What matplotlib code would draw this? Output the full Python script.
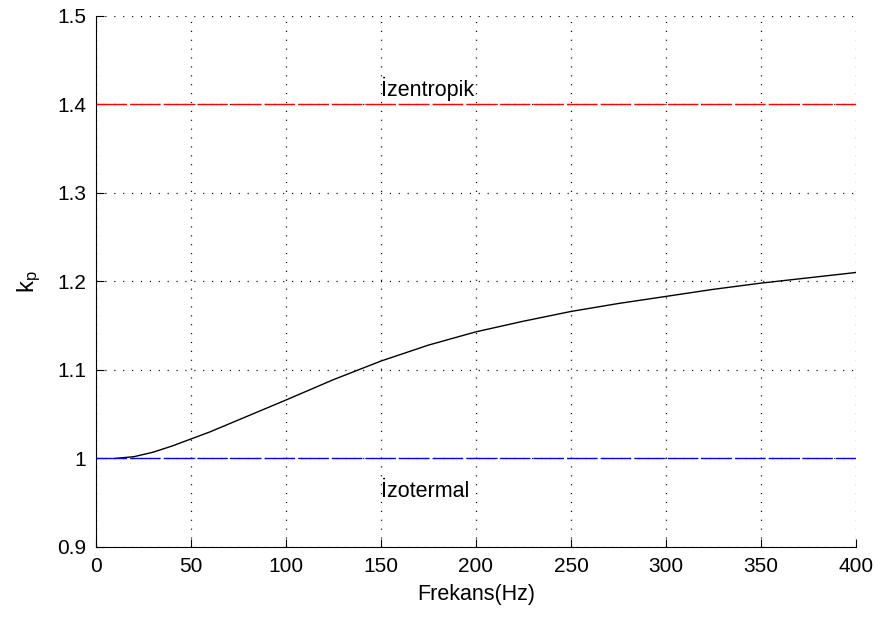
import numpy as np
import matplotlib.pyplot as plt

plt.rcParams['font.family'] = ['Liberation Sans', 'DejaVu Sans']
plt.rcParams['lines.scale_dashes'] = False

# data
freq = [10, 20, 30, 40, 50, 60, 70, 80, 90, 100, 125, 150, 175, 200,
        225, 250, 275, 300, 325, 350, 375, 400]
kp = [1.000, 1.002, 1.007, 1.014, 1.022, 1.030, 1.039, 1.048, 1.057, 1.066,
      1.089, 1.110, 1.128, 1.143, 1.155, 1.166, 1.175, 1.183, 1.191, 1.198,
      1.204, 1.210]
k_izentropik = 1.4
k_izotermal = 1.0
xlim = [0, 400]
ylim = [0.9, 1.5]

fig = plt.figure(figsize=(8.77, 6.17), dpi=100)
ax = fig.add_axes([0.1095, 0.1135, 0.8665, 0.861])

ax.plot(freq, kp, color='black', linewidth=1.0)
ax.plot(xlim, [k_izentropik, k_izentropik], color='red', linewidth=1.0,
        linestyle=(0, (22, 2.2)))
ax.plot(xlim, [k_izotermal, k_izotermal], color='#0000ff', linewidth=1.0,
        linestyle=(0, (22, 2.2)))

ax.text(150, 1.417, 'İzentropik', fontsize=15.5, va='center', ha='left')
ax.text(150, 0.963, 'İzotermal', fontsize=15.5, va='center', ha='left')

ax.set_xlim(xlim)
ax.set_ylim(ylim)
ax.set_xticks(np.arange(0, 401, 50))
ax.set_yticks([0.9, 1.0, 1.1, 1.2, 1.3, 1.4, 1.5])
ax.set_yticklabels(['0.9', '1', '1.1', '1.2', '1.3', '1.4', '1.5'])
ax.tick_params(direction='in', labelsize=15, length=5.5, width=0.8)
ax.tick_params(axis='x', pad=7)
ax.tick_params(axis='y', pad=7)
ax.spines['top'].set_visible(False)
ax.spines['right'].set_visible(False)
ax.grid(True, color='black', linestyle=(0, (0.8, 5.6)), linewidth=0.9)
ax.set_axisbelow(True)

ax.set_xlabel('Frekans(Hz)', fontsize=15.5, labelpad=6)
ax.set_ylabel('$\\mathregular{k_p}$', fontsize=17, labelpad=10)

fig.savefig('out.png', dpi=100)
